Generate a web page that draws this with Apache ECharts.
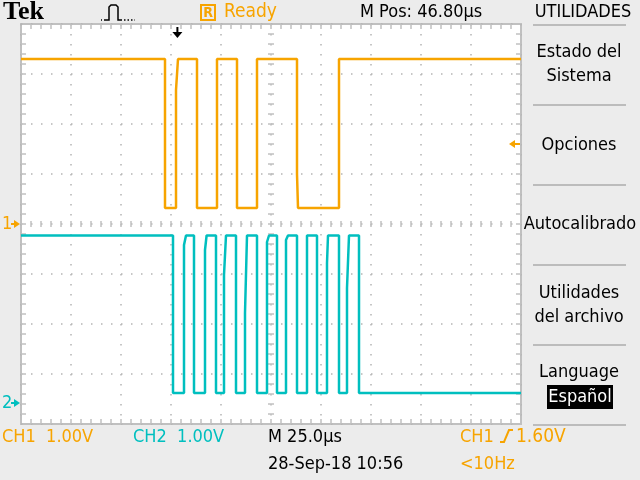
<!DOCTYPE html>
<html>
<head>
<meta charset="utf-8">
<script src="https://cdn.jsdelivr.net/npm/echarts@6/dist/echarts.min.js"></script>
<style>
html, body { margin: 0; padding: 0; background: #ececec; }
#chart-container { width: 640px; height: 480px; }
</style>
</head>
<body>
<div id="chart-container"></div>
<script>
var dom = document.getElementById('chart-container');
var myChart = echarts.init(dom, null, { renderer: 'canvas' });

// time in µs from the left edge of the screen, volts per channel
var timeCh1 = [0, 72, 72, 77.5, 77.5, 78.5, 78.5, 88, 88, 98, 98, 108, 108, 118, 118, 138, 138, 138.5, 138.5, 159, 159, 250];
var voltCh1 = [3.3, 3.3, 0.32, 0.32, 2.68, 2.68, 3.3, 3.3, 0.32, 0.32, 3.3, 3.3, 0.32, 0.32, 3.3, 3.3, 1.0, 1.0, 0.32, 0.32, 3.3, 3.3];

var timeCh2 = [0, 76, 76, 81.5, 81.5, 82.5, 82.5, 86.5, 86.5, 92, 92, 92.8, 92.8, 97.5, 97.5, 101.5, 101.5, 102.5, 102.5,
    107.5, 107.5, 112, 112, 113, 113, 118, 118, 123, 123, 124, 124, 128, 128, 132.5, 132.5, 133.5, 133.5,
    138, 138, 143, 143, 148, 148, 153, 153, 153.5, 153.5, 159, 159, 163, 163, 164, 164, 169, 169, 250];
var voltCh2 = [3.35, 3.35, 0.2, 0.2, 3.16, 3.16, 3.35, 3.35, 0.2, 0.2, 3.06, 3.06, 3.35, 3.35, 0.2, 0.2, 2.56, 2.56, 3.35,
    3.35, 0.2, 0.2, 1.8, 1.8, 3.35, 3.35, 0.2, 0.2, 3.22, 3.22, 3.35, 3.35, 0.2, 0.2, 3.26, 3.26, 3.35,
    3.35, 0.2, 0.2, 3.35, 3.35, 0.2, 0.2, 2.8, 2.8, 3.35, 3.35, 0.2, 0.2, 2.3, 2.3, 3.35, 3.35, 0.2, 0.2];

// scope settings
var voltsPerDiv = 1.0;
var ch1Position = 0;       // divisions
var ch2Position = -3.58;   // divisions
var triggerTime = 78.2;    // µs (M Pos 46.80µs left of centre)
var triggerLevel = 1.6;    // V on CH1

var orange = '#f7a400';
var cyan = '#00bfbf';
var gridGray = '#b4b4b4';
var tickGray = '#c0c0c0';
var font = '"DejaVu Sans Condensed", "Liberation Sans Narrow", sans-serif';

function trace(times, volts, pos) {
    return times.map(function (t, i) { return [t, volts[i] / voltsPerDiv + pos]; });
}

var dotted = { show: true, lineStyle: { color: gridGray, width: 1.5, type: [1.5, 8.5] } };

var option = {
    backgroundColor: '#ececec',
    animation: false,
    grid: {
        left: 21, top: 24, width: 500, height: 400,
        show: true, backgroundColor: '#ffffff', borderColor: tickGray, borderWidth: 2
    },
    xAxis: {
        type: 'value', min: 0, max: 250, interval: 25,
        axisLine: { show: false }, axisLabel: { show: false }, axisTick: { show: false },
        splitLine: dotted
    },
    yAxis: {
        type: 'value', min: -4, max: 4, interval: 1,
        axisLine: { show: false }, axisLabel: { show: false }, axisTick: { show: false },
        splitLine: dotted
    },
    series: [
        {
            name: 'CH1', type: 'line', data: trace(timeCh1, voltCh1, ch1Position),
            showSymbol: false, lineStyle: { color: orange, width: 2.5 }, itemStyle: { color: orange },
            z: 3
        },
        {
            name: 'CH2', type: 'line', data: trace(timeCh2, voltCh2, ch2Position),
            showSymbol: false, lineStyle: { color: cyan, width: 2.5 }, itemStyle: { color: cyan },
            z: 4
        }
    ]
};

myChart.setOption(option);

function txt(x, y, s, color, size, extra) {
    var st = {
        text: s, x: x, y: y, fill: color, fontSize: size || 18, fontFamily: font,
        align: 'left', verticalAlign: 'middle'
    };
    for (var k in (extra || {})) st[k] = extra[k];
    return { type: 'text', style: st, z: 20 };
}
function line(x1, y1, x2, y2, color, w, z) {
    return { type: 'line', shape: { x1: x1, y1: y1, x2: x2, y2: y2 }, style: { stroke: color, lineWidth: w || 2 }, z: z || 20, silent: true };
}
function px(t) { return myChart.convertToPixel({ xAxisIndex: 0 }, t); }
function py(v) { return myChart.convertToPixel({ yAxisIndex: 0 }, v); }

var gLeft = px(0), gRight = px(250), gTop = py(4), gBottom = py(-4);
var cx = px(125), cy = py(0);
var g1 = py(ch1Position), g2 = py(ch2Position);
var tl = py(triggerLevel / voltsPerDiv + ch1Position);
var tx = px(triggerTime);

var graphics = [];
// graticule ticks: 5 per division on the edges and the centre cross
for (var i = 1; i < 50; i++) {
    var x = px(i * 5);
    graphics.push(line(x, gTop, x, gTop + 5, tickGray, 1.5, 1));
    graphics.push(line(x, gBottom, x, gBottom - 5, tickGray, 1.5, 1));
    graphics.push(line(x, cy - 3, x, cy + 3, tickGray, 1.5, 1));
}
for (var j = 1; j < 40; j++) {
    var y = py(-4 + j * 0.2);
    graphics.push(line(gLeft, y, gLeft + 5, y, tickGray, 1.5, 1));
    graphics.push(line(gRight, y, gRight - 5, y, tickGray, 1.5, 1));
    graphics.push(line(cx - 3, y, cx + 3, y, tickGray, 1.5, 1));
}

function groundMarker(label, y, color) {
    return [
        txt(2, y, label, color, 18),
        line(11, y, 16, y, color, 2),
        { type: 'polygon', shape: { points: [[14, y - 4], [20, y], [14, y + 4]] }, style: { fill: color }, z: 20 }
    ];
}

graphics = graphics.concat([
    // header
    txt(3, 12, 'Tek', '#000', 26, { fontFamily: '"Liberation Serif", serif', fontWeight: 'bold' }),
    { type: 'polyline', shape: { points: [[101, 20], [103, 20]] }, style: { stroke: '#000', lineWidth: 1.5, lineDash: [1, 2] }, z: 20 },
    { type: 'polyline', shape: { points: [[104, 20], [109, 20], [109, 7], [111, 5], [116, 5], [118, 7], [118, 20], [122, 20]] }, style: { stroke: '#000', lineWidth: 1.5, fill: null }, z: 20 },
    { type: 'polyline', shape: { points: [[124, 20], [135, 20]] }, style: { stroke: '#000', lineWidth: 1.5, lineDash: [1.5, 2] }, z: 20 },
    { type: 'rect', shape: { x: 201, y: 5, width: 14, height: 15 }, style: { fill: 'none', stroke: orange, lineWidth: 2 }, z: 20 },
    txt(208, 13, 'R', orange, 14, { align: 'center', fontWeight: 'bold' }),
    txt(224, 12, 'Ready', orange, 19),
    txt(360, 12, 'M Pos: 46.80µs', '#000', 18),
    txt(583, 12, 'UTILIDADES', '#000', 18, { align: 'center' }),
    // trigger time arrow
    line(tx, 27, tx, 34, '#000', 2),
    { type: 'polygon', shape: { points: [[tx - 5, 32], [tx + 5, 32], [tx, 38]] }, style: { fill: '#000' }, z: 20 },
    // trigger level arrow
    line(512, tl, 520, tl, orange, 2),
    { type: 'polygon', shape: { points: [[515, tl - 4], [509, tl], [515, tl + 4]] }, style: { fill: orange }, z: 20 },
    // menu
    txt(579, 52, 'Estado del', '#000', 18, { align: 'center' }),
    txt(579, 76, 'Sistema', '#000', 18, { align: 'center' }),
    txt(579, 145, 'Opciones', '#000', 18, { align: 'center' }),
    txt(580, 224, 'Autocalibrado', '#000', 18, { align: 'center' }),
    txt(579, 293, 'Utilidades', '#000', 18, { align: 'center' }),
    txt(579, 317, 'del archivo', '#000', 18, { align: 'center' }),
    txt(579, 372, 'Language', '#000', 18, { align: 'center' }),
    { type: 'rect', shape: { x: 547, y: 385, width: 66, height: 24 }, style: { fill: '#000' }, z: 20 },
    txt(580, 397, 'Español', '#fff', 18, { align: 'center' }),
    // footer
    txt(2, 437, 'CH1  1.00V', orange, 18),
    txt(133, 437, 'CH2  1.00V', cyan, 18),
    txt(268, 437, 'M 25.0µs', '#000', 18),
    txt(460, 437, 'CH1', orange, 18),
    { type: 'polyline', shape: { points: [[500, 442], [504, 442], [509, 430], [513, 430]] }, style: { stroke: orange, lineWidth: 2, fill: null }, z: 20 },
    txt(516, 437, '1.60V', orange, 18, { fontSize: 19 }),
    txt(268, 464, '28-Sep-18 10:56', '#000', 18),
    txt(460, 464, '<10Hz', orange, 18)
]);
[25, 105, 185, 265, 345, 425].forEach(function (yy) { graphics.push(line(533, yy, 626, yy, '#bcbcbc', 2)); });
graphics = graphics.concat(groundMarker('1', g1, orange), groundMarker('2', g2, cyan));

myChart.setOption({ graphic: graphics });

window.addEventListener('resize', myChart.resize);
</script>
</body>
</html>
